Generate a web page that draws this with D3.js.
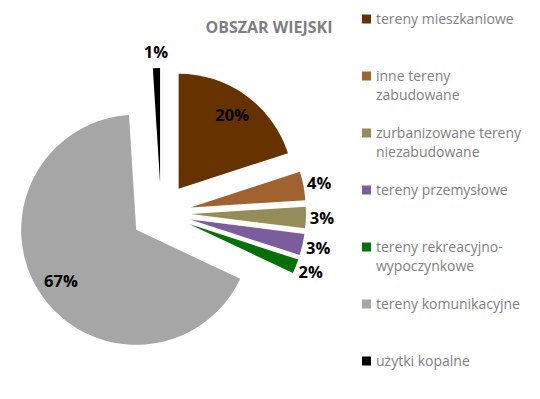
<!DOCTYPE html>
<html>
<head>
<meta charset="utf-8">
<script src="https://cdn.jsdelivr.net/npm/d3@7"></script>
<style>
  body { margin: 0; background: #fff; }
  svg { display: block; }
</style>
</head>
<body>
<div id="chart"></div>
<script>
// dane
let categories = ['tereny mieszkaniowe', 'inne tereny zabudowane', 'zurbanizowane tereny niezabudowane',
                  'tereny przemysłowe', 'tereny rekreacyjno-wypoczynkowe', 'tereny komunikacyjne', 'użytki kopalne'];
let legendLines = [['tereny mieszkaniowe'], ['inne tereny', 'zabudowane'], ['zurbanizowane tereny', 'niezabudowane'],
                   ['tereny przemysłowe'], ['tereny rekreacyjno-', 'wypoczynkowe'], ['tereny komunikacyjne'], ['użytki kopalne']];
let values = [20, 4, 3, 3, 2, 67, 1];
let colors = ['#663300', '#a0622f', '#968c5a', '#7b5c9c', '#057005', '#a6a6a6', '#000000'];
let title = 'OBSZAR WIEJSKI';

let width = 540;
let height = 399;

let svg = d3.select('#chart')
            .append('svg')
            .attr('width', width)
            .attr('height', height);

// pie
let cx = 161, cy = 213;
let radius = 115;
let explode = 30;

let pie = d3.pie().sort(null).value(d => d);
let arcs = pie(values);

let arc = d3.arc().innerRadius(0).outerRadius(radius);
let labelArcOut = d3.arc().innerRadius(161).outerRadius(161);
let labelArcIn = d3.arc().innerRadius(121).outerRadius(121);

let g = svg.append('g').attr('transform', 'translate(' + cx + ',' + cy + ')');

g.selectAll('path')
  .data(arcs)
  .enter()
  .append('path')
  .attr('d', arc)
  .attr('transform', function(d) {
      let mid = (d.startAngle + d.endAngle) / 2;
      return 'translate(' + (explode * Math.sin(mid)) + ',' + (-explode * Math.cos(mid)) + ')';
  })
  .style('fill', (d, i) => colors[i]);

g.selectAll('text.lbl')
  .data(arcs)
  .enter()
  .append('text')
  .attr('class', 'lbl')
  .attr('transform', function(d) {
      let p = d.data >= 10 ? labelArcIn.centroid(d) : labelArcOut.centroid(d);
      return 'translate(' + p + ')';
  })
  .attr('text-anchor', 'middle')
  .attr('dy', '0.36em')
  .style('font-family', '"Open Sans", sans-serif')
  .style('font-weight', 'bold')
  .style('font-size', '16.5px')
  .style('fill', '#000')
  .text(d => d.data + '%');

// tytuł
svg.append('text')
   .attr('x', 269)
   .attr('y', 33)
   .attr('text-anchor', 'middle')
   .style('font-family', '"Open Sans", sans-serif')
   .style('font-weight', 'bold')
   .style('font-size', '16px')
   .style('fill', '#7f7f7f')
   .text(title);

// legenda
let legendY = d3.scalePoint()
                .domain(categories)
                .range([19, 361]);

let leg = svg.selectAll('g.legend')
             .data(categories)
             .enter()
             .append('g')
             .attr('class', 'legend')
             .attr('transform', d => 'translate(362,' + legendY(d) + ')');

leg.append('rect')
   .attr('x', 0)
   .attr('y', -4.5)
   .attr('width', 9)
   .attr('height', 9)
   .style('fill', (d, i) => colors[i]);

leg.append('text')
   .attr('x', 14)
   .attr('y', 4.5)
   .style('font-family', '"Open Sans", sans-serif')
   .style('font-size', '14px')
   .style('fill', '#808080')
   .selectAll('tspan')
   .data((d, i) => legendLines[i])
   .enter()
   .append('tspan')
   .attr('x', 14)
   .attr('dy', (d, i) => i === 0 ? 0 : 19.5)
   .text(d => d);
</script>
</body>
</html>
